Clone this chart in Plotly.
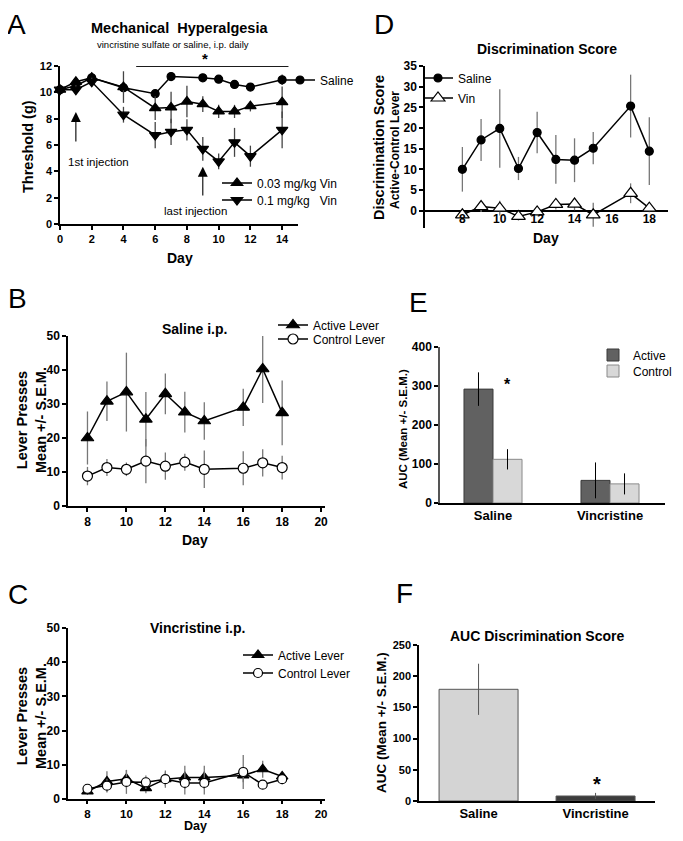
import plotly.graph_objects as go

# The page body adds an 8px margin; size the figure so the page is exactly 683x841.
PAGE_W, PAGE_H, BODY = 683, 841, 8
W, H = PAGE_W - 2 * BODY, PAGE_H - 2 * BODY
FONT = "Liberation Sans"

# ---------------- data ----------------
# Panel A - Mechanical hyperalgesia (threshold, g)
a_days_saline = [0, 1, 2, 4, 6, 7, 9, 10, 11, 12, 14]
a_saline = [10.2, 10.5, 11.1, 10.35, 9.9, 11.2, 11.1, 11.0, 10.6, 10.4, 10.95]
a_saline_err = [0.2, 0.3, 0.3, 0.3, 0.3, 0.3, 0.3, 0.3, 0.3, 0.3, 0.4]
a_days_vin = [0, 1, 2, 4, 6, 7, 8, 9, 10, 11, 12, 14]
a_vin003 = [10.2, 10.8, 11.1, 10.4, 8.8, 8.85, 9.3, 9.1, 8.55, 8.55, 8.95, 9.25]
a_vin003_err = [0.2, 0.3, 0.4, 1.2, 0.9, 1.2, 1.2, 0.6, 0.5, 0.5, 0.4, 1.2]
a_vin01 = [10.2, 10.2, 10.8, 8.3, 6.75, 7.0, 7.15, 5.7, 4.75, 6.2, 5.15, 7.15]
a_vin01_err = [0.2, 0.3, 0.3, 0.6, 1.0, 1.0, 0.8, 0.9, 0.6, 1.1, 0.8, 1.4]

# Panel D - Discrimination score (active - control)
d_days = [8, 9, 10, 11, 12, 13, 14, 15, 17, 18]
d_saline = [10.0, 17.1, 19.9, 10.2, 18.9, 12.4, 12.2, 15.1, 25.3, 14.4]
d_saline_err = [5.4, 5.1, 9.5, 2.8, 5.0, 5.9, 5.3, 3.9, 7.6, 8.2]
d_vin = [-1.0, 1.0, 0.6, -1.4, -0.3, 1.5, 1.6, -1.0, 4.2, 0.6]
d_vin_err = [1.2, 1.3, 1.8, 1.0, 0.8, 1.2, 1.5, 2.9, 2.4, 1.0]

# Panel B - Saline i.p. lever presses
bc_days = [8, 9, 10, 11, 12, 13, 14, 16, 17, 18]
b_active = [20.0, 30.8, 33.5, 25.5, 33.0, 27.6, 25.0, 29.0, 40.3, 27.4]
b_active_err = [7.8, 5.8, 11.6, 8.0, 6.0, 6.0, 5.5, 5.5, 10.0, 9.5]
b_control = [8.8, 11.3, 10.8, 13.2, 11.7, 12.9, 10.8, 11.1, 12.7, 11.3]
b_control_err = [2.7, 2.5, 2.0, 6.5, 4.0, 2.5, 5.5, 5.0, 4.0, 3.5]

# Panel C - Vincristine i.p. lever presses
c_active = [2.2, 5.1, 5.9, 3.2, 5.8, 6.3, 6.3, 6.9, 8.7, 6.6]
c_active_err = [1.0, 3.0, 2.6, 1.5, 2.0, 3.4, 3.4, 2.0, 2.5, 1.0]
c_control = [3.0, 3.9, 5.0, 4.9, 5.8, 4.7, 4.7, 7.9, 4.2, 5.8]
c_control_err = [1.0, 2.0, 3.5, 2.0, 2.5, 3.4, 3.4, 5.0, 1.0, 1.5]

# Panel E - AUC active vs control
e_groups = ["Saline", "Vincristine"]
e_active = [292, 58]
e_active_err = [43, 46]
e_control = [112, 49]
e_control_err = [26, 27]

# Panel F - AUC discrimination score
f_groups = ["Saline", "Vincristine"]
f_auc = [179, 8]
f_auc_err = [41, 5]
f_colors = ["#d4d4d4", "#3c3c3c"]


def fx(p):
    return (p - BODY) / W


def fy(p):
    return 1 - (p - BODY) / H


ERR_A = "#444444"
ERR = "#777777"

fig = go.Figure()


def err(arr, color=ERR):
    return dict(type="data", array=arr, visible=True, color=color, thickness=1.3, width=0)


def line_trace(x, y, e, name, symbol, size, xa, ya, legend, fill="black", ecolor=ERR, lw=1.2):
    return go.Scatter(
        x=x, y=y, mode="lines+markers", name=name,
        line=dict(color="black", width=1.5),
        marker=dict(symbol=symbol, size=size, color=fill, line=dict(color="black", width=lw)),
        error_y=err(e, ecolor), xaxis=xa, yaxis=ya, legend=legend, cliponaxis=False,
    )


# Panel A
fig.add_trace(line_trace(a_days_saline, a_saline, a_saline_err, "Saline", "circle", 8, "x", "y", "legend", ecolor=ERR_A))
fig.add_trace(line_trace(a_days_vin, a_vin003, a_vin003_err, "0.03 mg/kg Vin", "triangle-up", 10, "x", "y", "legend2", ecolor=ERR_A))
fig.add_trace(line_trace(a_days_vin, a_vin01, a_vin01_err, "0.1 mg/kg\u00a0\u00a0\u00a0Vin", "triangle-down", 10, "x", "y", "legend3", ecolor=ERR_A))

# Panel D
fig.add_trace(line_trace(d_days, d_saline, d_saline_err, "Saline", "circle", 8, "x2", "y2", "legend4"))
fig.add_trace(line_trace(d_days, d_vin, d_vin_err, "Vin", "triangle-up", 12, "x2", "y2", "legend5", fill="white"))

# Panel B
fig.add_trace(line_trace(bc_days, b_active, b_active_err, "Active Lever", "triangle-up", 11, "x3", "y3", "legend6"))
fig.add_trace(line_trace(bc_days, b_control, b_control_err, "Control Lever", "circle", 10, "x3", "y3", "legend7", fill="white"))

# Panel C
fig.add_trace(line_trace(bc_days, c_active, c_active_err, "Active Lever", "triangle-up", 10, "x5", "y5", "legend8"))
fig.add_trace(line_trace(bc_days, c_control, c_control_err, "Control Lever", "circle", 9, "x5", "y5", "legend9", fill="white"))

# Panel E
bw_e = 0.248
fig.add_trace(go.Bar(
    x=e_groups, y=e_active, name="Active", width=bw_e, offset=-bw_e,
    marker=dict(color="#616161", line=dict(color="#3a3a3a", width=1)),
    error_y=dict(type="data", array=e_active_err, color="black", thickness=1, width=0),
    xaxis="x4", yaxis="y4", legend="legend10"))
fig.add_trace(go.Bar(
    x=e_groups, y=e_control, name="Control", width=bw_e, offset=0,
    marker=dict(color="#d8d8d8", line=dict(color="#8a8a8a", width=1)),
    error_y=dict(type="data", array=e_control_err, color="black", thickness=1, width=0),
    xaxis="x4", yaxis="y4", legend="legend11"))

# Panel F
bw_f = 0.675
fig.add_trace(go.Bar(
    x=f_groups, y=f_auc, width=bw_f, offset=-bw_f / 2, showlegend=False,
    marker=dict(color=f_colors, line=dict(color="#555555", width=1)),
    error_y=dict(type="data", array=f_auc_err, color="#555555", thickness=1, width=0),
    xaxis="x6", yaxis="y6"))


def bold_ticks(vals):
    return dict(tickvals=vals, ticktext=[f"<b>{v}</b>" for v in vals])


def axis(dom, vals=None, size=12, **kw):
    d = dict(domain=dom, showline=True, linecolor="black", linewidth=1.5, ticks="outside",
             ticklen=4, tickwidth=1.5, tickcolor="black", showgrid=False, zeroline=False,
             automargin=False,
             tickfont=dict(family=FONT, size=size, color="black"), fixedrange=True)
    if vals is not None:
        d.update(bold_ticks(vals))
    d.update(kw)
    return d


def xd(a, b):
    return [fx(a), fx(b)]


def yd(top, bottom):
    return [fy(bottom), fy(top)]


layout = dict(
    width=W, height=H, margin=dict(l=0, r=0, t=0, b=0, autoexpand=False),
    paper_bgcolor="white", plot_bgcolor="white", barmode="overlay",
    font=dict(family=FONT, color="black"),
    # A
    xaxis=axis(xd(60, 298), list(range(0, 15, 2)), 11, anchor="y", range=[0, 15]),
    yaxis=axis(yd(66, 224), list(range(0, 13, 2)), 11, anchor="x", range=[0, 12]),
    # D
    xaxis2=axis(xd(425, 668), list(range(8, 19, 2)), 12, anchor="y2", range=[6, 19],
                showline=False, ticks="", ticklabelposition="inside"),
    yaxis2=axis(yd(66, 228), list(range(0, 36, 5)), 12, anchor="x2", range=[-4.2, 35],
                zeroline=True, zerolinecolor="black", zerolinewidth=1.5),
    # B
    xaxis3=axis(xd(68, 325), list(range(8, 21, 2)), 12, anchor="y3", range=[7, 20.2]),
    yaxis3=axis(yd(336, 506), list(range(0, 51, 10)), 12, anchor="x3", range=[0, 50]),
    # E
    xaxis4=axis(xd(440, 665), e_groups, 13, anchor="y4", type="category", range=[-0.453, 1.47], ticks=""),
    yaxis4=axis(yd(347, 503), [0, 100, 200, 300, 400], 12, anchor="x4", range=[0, 400],
                linecolor="#555555"),
    # C
    xaxis5=axis(xd(68, 325), list(range(8, 21, 2)), 11.5, anchor="y5", range=[7, 20.2],
                ticklen=3),
    yaxis5=axis(yd(628, 799), list(range(0, 51, 10)), 12, anchor="x5", range=[0, 50]),
    # F
    xaxis6=axis(xd(419, 655), f_groups, 13, anchor="y6", type="category", range=[-0.509, 1.508], ticks=""),
    yaxis6=axis(yd(645, 801), list(range(0, 251, 50)), 11, anchor="x6", range=[0, 250]),
)


def leg(x_text, y_c):
    return dict(x=fx(x_text - 40), y=fy(y_c), xanchor="left", yanchor="middle",
                bgcolor="rgba(0,0,0,0)", borderwidth=0,
                font=dict(family=FONT, size=12, color="black"), itemwidth=30)


layout.update(
    legend=leg(320, 80),
    legend2=leg(257, 183),
    legend3=leg(257, 200),
    legend4=leg(458, 78),
    legend5=leg(458, 98),
    legend6=leg(313, 325),
    legend7=leg(313, 339),
    legend8=leg(278, 655),
    legend9=leg(278, 673),
    legend10=leg(633, 355),
    legend11=leg(633, 371),
)

fig.update_layout(**layout)


def ann(text, x, y, size, bold=True, angle=0):
    t = f"<b>{text}</b>" if bold else text
    fig.add_annotation(text=t, x=fx(x), y=fy(y), xref="paper", yref="paper",
                       xanchor="center", yanchor="middle", showarrow=False, textangle=angle,
                       font=dict(family=FONT, size=size, color="black"))


# Panel letters
ann("A", 16, 24, 28, bold=False)
ann("D", 384, 24, 28, bold=False)
ann("B", 17, 298, 28, bold=False)
ann("E", 419, 302, 28, bold=False)
ann("C", 18, 594, 28, bold=False)
ann("F", 404, 593, 28, bold=False)

# Panel A texts
ann("Mechanical\u00a0 Hyperalgesia", 179, 28, 14.5)
ann("vincristine sulfate or saline, i.p. daily", 173, 45, 9.5, bold=False)
ann("Threshold (g)", 28, 147, 14.5, angle=-90)
ann("Day", 180, 258, 14)
ann("1st injection", 98, 162, 11.5, bold=False)
ann("last injection", 195, 211, 11.5, bold=False)
ann("*", 205, 59, 15)

# Panel D texts
ann("Discrimination Score", 547, 49, 14)
ann("Discrimination Score", 379, 148, 14.5, angle=-90)
ann("Active-Control Lever", 395, 150, 12, angle=-90)
ann("Day", 546, 238, 14)

# Panel B texts
ann("Saline i.p.", 194, 329, 14)
ann("Lever Presses<br>Mean +/- S.E.M.", 31, 420, 14.5, angle=-90)
ann("Day", 195, 540, 14)

# Panel C texts
ann("Vincristine i.p.", 197, 628, 14)
ann("Lever Presses<br>Mean +/- S.E.M.", 31, 716, 14.5, angle=-90)
ann("Day", 195, 825.5, 12.5)

# Panel E texts
ann("AUC (Mean +/- S.E.M.)", 403, 429, 11.5, angle=-90)
ann("*", 507, 384, 16)

# Panel F texts
ann("AUC Discrimination Score", 537, 636, 14)
ann("AUC (Mean +/- S.E.M.)", 381, 723, 13.5, angle=-90)
ann("*", 597, 784, 20)

# Injection arrows (panel A, data coords)
for xd_, tip, tail in [(1, 8.5, 6.15), (9, 4.35, 2.05)]:
    fig.add_annotation(x=xd_, y=tip, ax=xd_, ay=tail, xref="x", yref="y", axref="x", ayref="y",
                       text="", showarrow=True, arrowhead=2, arrowsize=1.8, arrowwidth=1.1,
                       arrowcolor="black")

# significance bar (panel A)
fig.add_shape(type="line", xref="x", yref="y", x0=4.8, x1=14.4, y0=11.97, y1=11.97,
              line=dict(color="black", width=1))

fig.write_html("out.html")
